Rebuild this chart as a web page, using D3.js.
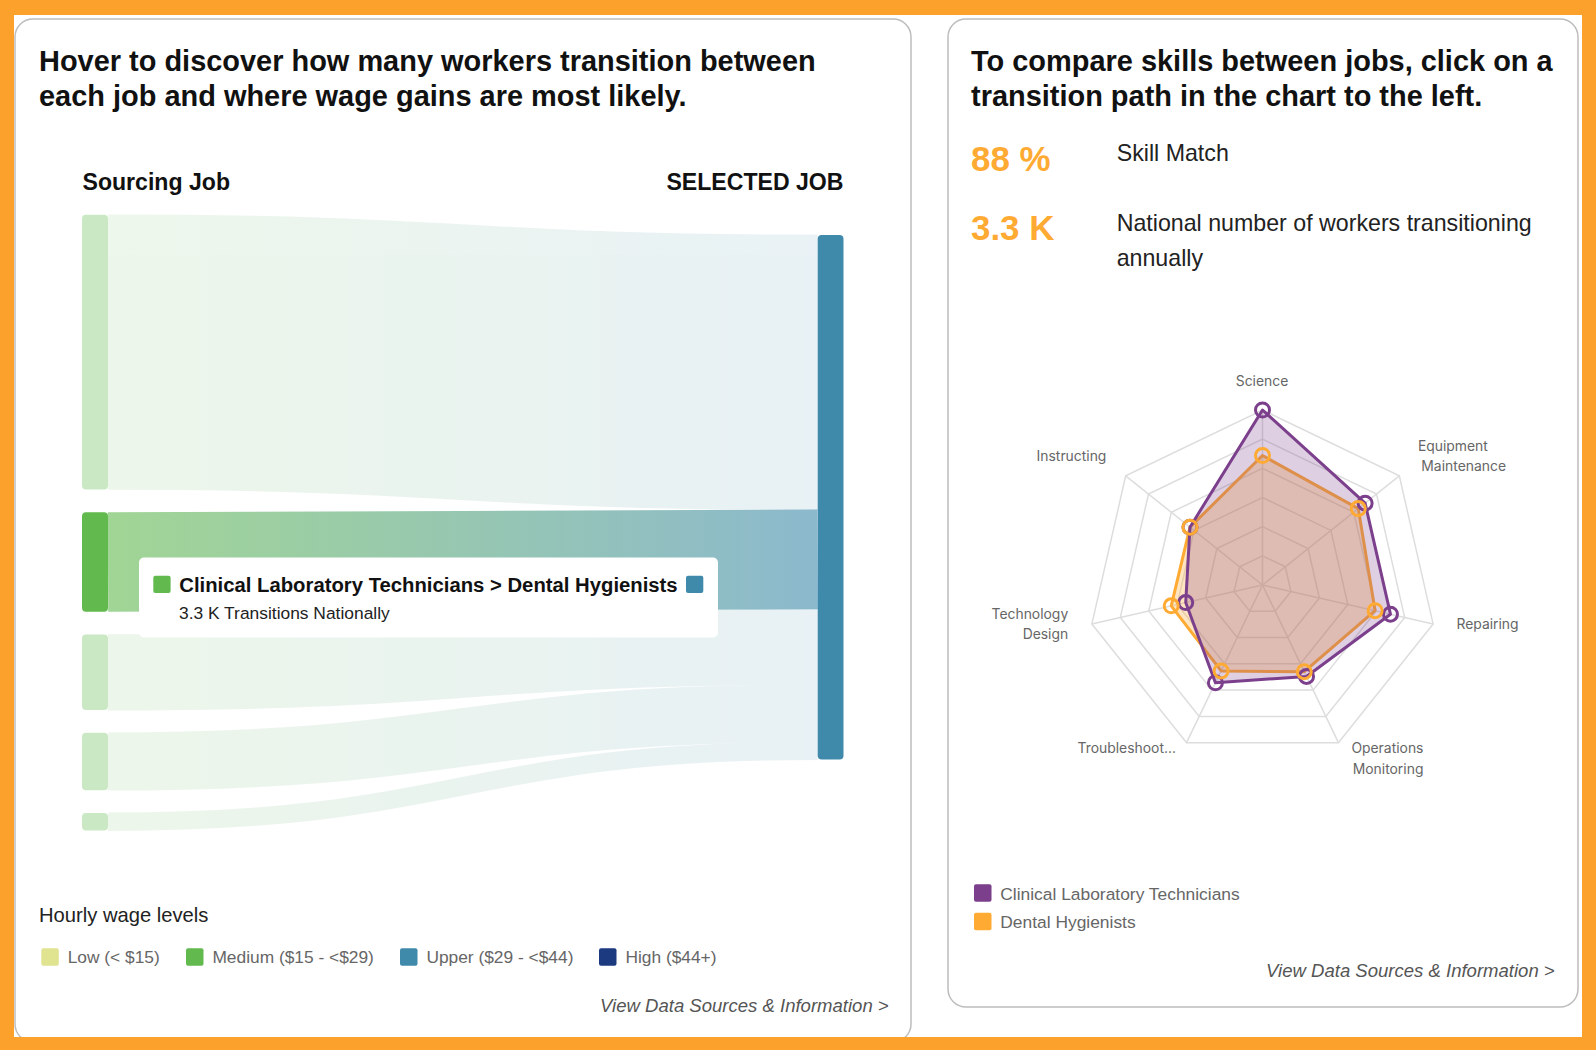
<!DOCTYPE html>
<html>
<head>
<meta charset="utf-8">
<script src="https://cdn.jsdelivr.net/npm/d3@7"></script>
<style>
  html, body { margin: 0; padding: 0; background: #fda12d; }
  svg { display: block; }
  text { font-family: "Liberation Sans", Arial, sans-serif; }
  .radar-label { font-family: "Inter", sans-serif; font-size: 13.9px; fill: #666; }
</style>
</head>
<body>
<svg id="fig"></svg>
<script>
// Sankey values, thousands of workers per year
var sourceValues = [9.1, 3.3, 2.5, 1.9, 0.58];
var highlighted = 1; // the hovered path

var wageLevels = ["Low (< $15)", "Medium ($15 - <$29)", "Upper ($29 - <$44)", "High ($44+)"];
var wageColors = ["#e0e38f", "#62b94e", "#3f8aab", "#1c3a7f"];

// Radar values, skill score out of 100
var skills = ["Science", "Equipment Maintenance", "Repairing", "Operations Monitoring", "Troubleshooting", "Technology Design", "Instructing"];
var clinicalTech = [100, 75, 75, 58, 62, 45, 53];
var dentalHyg = [74, 70, 66, 55, 54.5, 53.5, 53];
var ringTicks = [100 / 6, 200 / 6, 50, 400 / 6, 500 / 6, 100];

var w = 1596, h = 1050;
var orange = "#fda12d", purple = "#7b3f8c", amber = "#ffaa33";

var svg = d3.select("#fig").attr("width", w).attr("height", h);

// Helper for plain text
function label(parent, str, x, y, size, opts) {
  opts = opts || {};
  return parent.append("text")
    .text(str)
    .attr("x", x)
    .attr("y", y)
    .attr("text-anchor", opts.anchor || "start")
    .style("font-size", size + "px")
    .style("font-weight", opts.weight || "normal")
    .style("font-style", opts.italic ? "italic" : "normal")
    .style("fill", opts.fill || "#111");
}

function swatch(parent, x, y, size, color) {
  return parent.append("rect")
    .attr("x", x).attr("y", y)
    .attr("width", size).attr("height", size)
    .attr("rx", 2)
    .style("fill", color);
}

// Page and cards
svg.append("rect").attr("x", 14).attr("y", 15).attr("width", 1568).attr("height", 1022).style("fill", "#fff");
svg.selectAll(".card")
  .data([[15, 19, 896, 1023], [948, 19, 630, 988]])
  .enter().append("rect")
  .attr("class", "card")
  .attr("x", function(d) { return d[0]; })
  .attr("y", function(d) { return d[1]; })
  .attr("width", function(d) { return d[2]; })
  .attr("height", function(d) { return d[3]; })
  .attr("rx", 18)
  .style("fill", "#fff")
  .style("stroke", "#bdbdbd")
  .style("stroke-width", 1.5);

/// Left card
var left = svg.append("g").attr("id", "left");
label(left, "Hover to discover how many workers transition between", 39, 71, 28.95, { weight: "bold" });
label(left, "each job and where wage gains are most likely.", 39, 105.5, 28.95, { weight: "bold" });
label(left, "Sourcing Job", 82.5, 190, 23.1, { weight: "bold" });
label(left, "SELECTED JOB", 843.5, 190, 23.1, { weight: "bold", anchor: "end" });

// Sankey layout: heights come from the scale, nodes stacked with a fixed gap
var total = d3.sum(sourceValues);
var hScale = d3.scaleLinear().domain([0, total]).range([0, 524.5]);
var node_w = 26, src_x = 82, tgt_x = 817.7, src_top = 214.8, tgt_top = 235, node_gap = 22.8;

var links = [];
var ySrc = src_top, yTgt = tgt_top;
sourceValues.forEach(function(v, i) {
  var t = hScale(v);
  links.push({ i: i, width: t, y0: ySrc + t / 2, y1: yTgt + t / 2, top: ySrc });
  ySrc += t + node_gap;
  yTgt += t;
});

var defs = svg.append("defs");
var grad = defs.append("linearGradient")
  .attr("id", "linkGrad")
  .attr("gradientUnits", "userSpaceOnUse")
  .attr("x1", src_x + node_w).attr("x2", tgt_x)
  .attr("y1", 0).attr("y2", 0);
grad.append("stop").attr("offset", "0%").attr("stop-color", wageColors[1]);
grad.append("stop").attr("offset", "100%").attr("stop-color", wageColors[2]);

var linkPath = d3.linkHorizontal()
  .source(function(d) { return [src_x + node_w, d.y0]; })
  .target(function(d) { return [tgt_x, d.y1]; });

// Pale links share one group opacity so that their overlaps do not darken
left.append("g").attr("id", "links").style("opacity", 0.115)
  .selectAll("path").data(links.filter(function(d) { return d.i != highlighted; })).enter().append("path")
  .attr("d", linkPath)
  .style("fill", "none")
  .style("stroke", "url(#linkGrad)")
  .style("stroke-width", function(d) { return d.width + 0.8; });

left.append("path")
  .datum(links[highlighted])
  .attr("d", linkPath)
  .style("fill", "none")
  .style("stroke", "url(#linkGrad)")
  .style("stroke-width", function(d) { return d.width; })
  .style("stroke-opacity", 0.6);

left.append("g").attr("id", "nodes").selectAll("rect").data(links).enter().append("rect")
  .attr("x", src_x)
  .attr("y", function(d) { return d.top; })
  .attr("width", node_w)
  .attr("height", function(d) { return d.width; })
  .attr("rx", 4)
  .style("fill", wageColors[1])
  .style("opacity", function(d) { return d.i == highlighted ? 1 : 0.33; });

left.append("rect")
  .attr("x", tgt_x).attr("y", tgt_top)
  .attr("width", node_w - 0.2).attr("height", hScale(total))
  .attr("rx", 4)
  .style("fill", wageColors[2]);

// Tooltip
var tip = left.append("g").attr("id", "tooltip");
tip.append("rect")
  .attr("x", 139).attr("y", 557.5)
  .attr("width", 579).attr("height", 80)
  .attr("rx", 5)
  .style("fill", "#fff");
swatch(tip, 153.3, 575.7, 17.3, wageColors[1]);
swatch(tip, 686, 575.7, 17.3, wageColors[2]);
label(tip, "Clinical Laboratory Technicians > Dental Hygienists", 179.3, 591.5, 20.3, { weight: "bold" });
label(tip, "3.3 K Transitions Nationally", 179, 619, 17.4, { fill: "#222" });

// Wage legend
label(left, "Hourly wage levels", 39, 922, 20.2, { fill: "#222" });
var legendX = [41.3, 186, 400, 599];
wageLevels.forEach(function(name, i) {
  swatch(left, legendX[i], 948.3, 17.5, wageColors[i]);
  label(left, name, legendX[i] + 26.4, 963, 17.35, { fill: "#666" });
});
label(left, "View Data Sources & Information >", 888.7, 1012, 18.55, { italic: true, anchor: "end", fill: "#555" });

/// Right card
var right = svg.append("g").attr("id", "right");
label(right, "To compare skills between jobs, click on a", 971, 71, 28.95, { weight: "bold" });
label(right, "transition path in the chart to the left.", 971, 105.5, 28.95, { weight: "bold" });
label(right, "88 %", 971, 171, 34.9, { weight: "bold", fill: amber });
label(right, "3.3 K", 971, 240, 34.9, { weight: "bold", fill: amber });
label(right, "Skill Match", 1116.7, 161, 23.2, { fill: "#222" });
label(right, "National number of workers transitioning", 1116.7, 231, 23.2, { fill: "#222" });
label(right, "annually", 1116.7, 265.5, 23.2, { fill: "#222" });

// Radar
var cx = 1262.5, cy = 585, R = 175;
var rScale = d3.scaleLinear().domain([0, 100]).range([0, R]);
var step = 2 * Math.PI / skills.length;
var radar = right.append("g").attr("id", "radar").attr("transform", "translate(" + cx + "," + cy + ")");

function radarLine(values) {
  return d3.lineRadial()
    .angle(function(d, i) { return i * step; })
    .radius(function(d) { return rScale(d); })
    .curve(d3.curveLinearClosed)(values);
}
function vertex(i, v) {
  return [rScale(v) * Math.sin(i * step), -rScale(v) * Math.cos(i * step)];
}

radar.append("g").selectAll("path").data(ringTicks).enter().append("path")
  .attr("d", function(t) { return radarLine(skills.map(function() { return t; })); })
  .style("fill", "none")
  .style("stroke", "#ddd")
  .style("stroke-width", 1.5);
radar.append("g").selectAll("line").data(skills).enter().append("line")
  .attr("x2", function(d, i) { return vertex(i, 100)[0]; })
  .attr("y2", function(d, i) { return vertex(i, 100)[1]; })
  .style("stroke", "#ddd")
  .style("stroke-width", 1.5);

// orange first, the purple wash sits on top of it; the markers go last
[[dentalHyg, amber, 0.3], [clinicalTech, purple, 0.25]].forEach(function(s) {
  radar.append("path")
    .attr("d", radarLine(s[0]))
    .style("fill", s[1])
    .style("fill-opacity", s[2])
    .style("stroke", s[1])
    .style("stroke-width", 3)
    .style("stroke-linejoin", "round");
});
[[clinicalTech, purple], [dentalHyg, amber]].forEach(function(s) {
  radar.append("g").selectAll("circle").data(s[0]).enter().append("circle")
    .attr("cx", function(d, i) { return vertex(i, d)[0]; })
    .attr("cy", function(d, i) { return vertex(i, d)[1]; })
    .attr("r", 7)
    .style("fill", "none")
    .style("stroke", s[1])
    .style("stroke-width", 3);
});

// Axis labels, placed relative to the outer vertex of their axis
var axisLabels = [
  [["Science", -0.5, -24, "middle"]],
  [["Equipment", 18.6, -25.2, "start"], ["Maintenance", 22, -5.2, "start"]],
  [["Repairing", 23.3, 4.8, "start"]],
  [["Operations", 85, 10.6, "end"], ["Monitoring", 85, 31, "end"]],
  [["Troubleshoot...", -10.6, 10.6, "end"]],
  [["Technology", -23.7, -5.2, "end"], ["Design", -23.7, 15, "end"]],
  [["Instructing", -19.3, -14.9, "end"]]
];
axisLabels.forEach(function(lines, i) {
  var p = vertex(i, 100);
  lines.forEach(function(l) {
    radar.append("text")
      .attr("class", "radar-label")
      .attr("x", p[0] + l[1])
      .attr("y", p[1] + l[2])
      .attr("text-anchor", l[3])
      .text(l[0]);
  });
});

// Skills legend
swatch(right, 974, 884.3, 17.5, purple);
label(right, "Clinical Laboratory Technicians", 1000.3, 900, 17.4, { fill: "#666" });
swatch(right, 974, 912.7, 17.5, amber);
label(right, "Dental Hygienists", 1000.3, 928, 17.4, { fill: "#666" });
label(right, "View Data Sources & Information >", 1554.7, 977, 18.55, { italic: true, anchor: "end", fill: "#555" });

// Orange frame goes over the cards so the left card is cut off at the bottom
svg.append("rect").attr("x", 0).attr("y", 1037).attr("width", w).attr("height", h - 1037).style("fill", orange);
</script>
</body>
</html>
